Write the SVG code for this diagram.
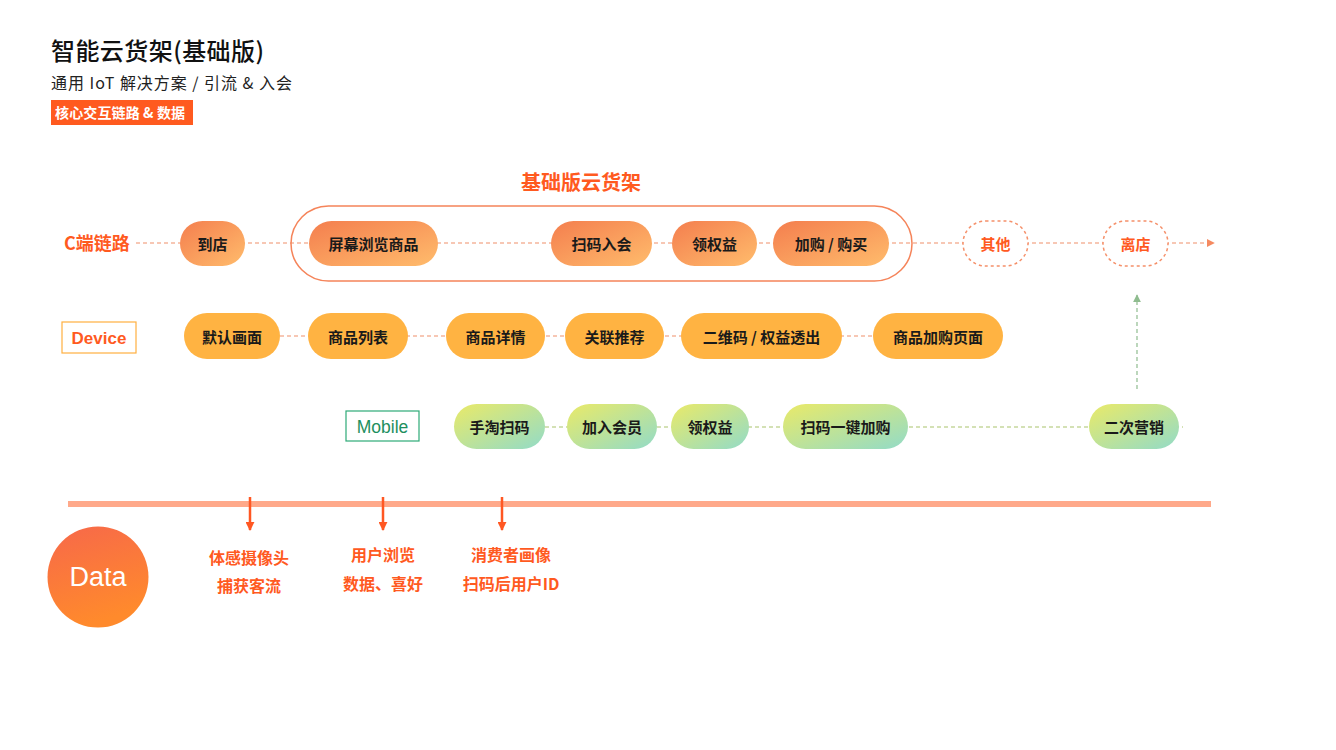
<svg xmlns="http://www.w3.org/2000/svg" width="1336" height="750" viewBox="0 0 1336 750">
<defs>
<linearGradient id="gC" x1="0" y1="0" x2="1" y2="1"><stop offset="0" stop-color="#F47E4E"/><stop offset="1" stop-color="#FFBC6C"/></linearGradient>
<linearGradient id="gM" x1="0" y1="0" x2="1" y2="1"><stop offset="0" stop-color="#EAEA68"/><stop offset="1" stop-color="#92DBC8"/></linearGradient>
<linearGradient id="gD" x1="0" y1="0" x2="0.3" y2="1"><stop offset="0" stop-color="#F7684A"/><stop offset="1" stop-color="#FF8A2C"/></linearGradient>
<marker id="aO" viewBox="0 0 10 10" refX="9" refY="5" markerWidth="8" markerHeight="8" markerUnits="userSpaceOnUse" orient="auto"><path d="M0,0 L10,5 L0,10 Z" fill="#F58A60"/></marker>
<marker id="aG" viewBox="0 0 10 10" refX="9" refY="5" markerWidth="8" markerHeight="8" markerUnits="userSpaceOnUse" orient="auto"><path d="M0,0 L10,5 L0,10 Z" fill="#8FBC8F"/></marker>
<marker id="aR" viewBox="0 0 10 10" refX="9" refY="5" markerWidth="9" markerHeight="9" markerUnits="userSpaceOnUse" orient="auto"><path d="M0,0 L10,5 L0,10 Z" fill="#FF5722"/></marker>
</defs>
<style>
text{font-family:"Noto Sans CJK SC","Liberation Sans",sans-serif;}
.pt{font-size:15px;font-weight:600;fill:#1A1A1A;text-anchor:middle;dominant-baseline:central;}
.or{fill:#FF5A1F;}
.dt{font-size:16px;font-weight:700;fill:#FF5A1F;text-anchor:middle;}
.dashO{stroke:#F0906A;stroke-width:1.2;stroke-dasharray:4 3;fill:none;}
.dashG{stroke:#A9C46C;stroke-width:1.2;stroke-dasharray:4 3;fill:none;}
</style>
<rect width="1336" height="750" fill="#FFFFFF"/>

<g id="header">
<text x="51" y="60" font-size="24" font-weight="500" fill="#111" textLength="213">智能云货架(基础版)</text>
<text x="51" y="89" font-size="16" fill="#222" textLength="241">通用 IoT 解决方案 / 引流 &amp; 入会</text>
<rect x="51" y="100" width="142" height="25" fill="#FF5A1F"/>
<text x="55" y="117.5" font-size="14" font-weight="700" fill="#FFFFFF" textLength="130">核心交互链路 &amp; 数据</text>
</g>

<g id="connectors">
<line class="dashO" x1="136" y1="243" x2="1214" y2="243" marker-end="url(#aO)"/>
<line class="dashO" x1="280" y1="336" x2="873" y2="336"/>
<line class="dashG" x1="545" y1="427" x2="1183" y2="427"/>
<line x1="1137" y1="389" x2="1137" y2="295" stroke="#8FBC8F" stroke-width="1.2" stroke-dasharray="4 3" marker-end="url(#aG)"/>
<rect x="68" y="501" width="1143" height="6" fill="#FFA98A"/>
<line x1="250" y1="497" x2="250" y2="530" stroke="#FF5722" stroke-width="2.5" marker-end="url(#aR)"/>
<line x1="383" y1="497" x2="383" y2="530" stroke="#FF5722" stroke-width="2.5" marker-end="url(#aR)"/>
<line x1="502" y1="497" x2="502" y2="530" stroke="#FF5722" stroke-width="2.5" marker-end="url(#aR)"/>
</g>

<g id="group-basic">
<rect x="291" y="206" width="621" height="75" rx="37.5" fill="none" stroke="#F5845A" stroke-width="1.5"/>
<text x="581" y="190" font-size="20" font-weight="600" fill="#FF5A1F" text-anchor="middle">基础版云货架</text>
</g>

<g id="label-c"><text x="64" y="250" font-size="18" font-weight="700" class="or">C端链路</text></g>
<g id="label-device"><rect x="62" y="322" width="74" height="31" fill="#FFFFFF" stroke="#FFB040" stroke-width="1.2"/><text x="99" y="338" font-size="17" font-weight="700" fill="#FF5A1F" text-anchor="middle" dominant-baseline="central" style="font-family:'Liberation Sans',sans-serif">Device</text></g>
<g id="label-mobile"><rect x="346" y="411" width="73" height="30" fill="#FFFFFF" stroke="#2EAA77" stroke-width="1.2"/><text x="382.5" y="427" font-size="17.5" fill="#1E8F5E" text-anchor="middle" dominant-baseline="central" style="font-family:'Liberation Sans',sans-serif">Mobile</text></g>

<g id="c1"><rect x="180" y="221" width="65" height="45" rx="22.5" fill="url(#gC)"/><text class="pt" x="212.5" y="243.5">到店</text></g>
<g id="c2"><rect x="309" y="221" width="129" height="45" rx="22.5" fill="url(#gC)"/><text class="pt" x="373.5" y="243.5">屏幕浏览商品</text></g>
<g id="c3"><rect x="551" y="221" width="101" height="45" rx="22.5" fill="url(#gC)"/><text class="pt" x="601.5" y="243.5">扫码入会</text></g>
<g id="c4"><rect x="672" y="221" width="85" height="45" rx="22.5" fill="url(#gC)"/><text class="pt" x="714.5" y="243.5">领权益</text></g>
<g id="c5"><rect x="773" y="221" width="116" height="45" rx="22.5" fill="url(#gC)"/><text class="pt" x="831" y="243.5">加购 / 购买</text></g>
<g id="c6"><rect x="963" y="221" width="65" height="45" rx="22.5" fill="#FFFFFF" stroke="#F5906A" stroke-width="1.5" stroke-dasharray="3 3"/><text class="pt" x="995.5" y="243.5" style="fill:#FF5A1F;font-weight:700">其他</text></g>
<g id="c7"><rect x="1103" y="221" width="65" height="45" rx="22.5" fill="#FFFFFF" stroke="#F5906A" stroke-width="1.5" stroke-dasharray="3 3"/><text class="pt" x="1135.5" y="243.5" style="fill:#FF5A1F;font-weight:700">离店</text></g>

<g id="d1"><rect x="184" y="313" width="96" height="46" rx="23" fill="#FFB342"/><text class="pt" x="232" y="336">默认画面</text></g>
<g id="d2"><rect x="308" y="313" width="100" height="46" rx="23" fill="#FFB342"/><text class="pt" x="358" y="336">商品列表</text></g>
<g id="d3"><rect x="446" y="313" width="99" height="46" rx="23" fill="#FFB342"/><text class="pt" x="495.5" y="336">商品详情</text></g>
<g id="d4"><rect x="565" y="313" width="99" height="46" rx="23" fill="#FFB342"/><text class="pt" x="614.5" y="336">关联推荐</text></g>
<g id="d5"><rect x="681" y="313" width="161" height="46" rx="23" fill="#FFB342"/><text class="pt" x="761.5" y="336">二维码 / 权益透出</text></g>
<g id="d6"><rect x="873" y="313" width="130" height="46" rx="23" fill="#FFB342"/><text class="pt" x="938" y="336">商品加购页面</text></g>

<g id="m1"><rect x="454" y="404" width="91" height="45" rx="22.5" fill="url(#gM)"/><text class="pt" x="499.5" y="426.5">手淘扫码</text></g>
<g id="m2"><rect x="567" y="404" width="90" height="45" rx="22.5" fill="url(#gM)"/><text class="pt" x="612" y="426.5">加入会员</text></g>
<g id="m3"><rect x="671" y="404" width="78" height="45" rx="22.5" fill="url(#gM)"/><text class="pt" x="710" y="426.5">领权益</text></g>
<g id="m4"><rect x="783" y="404" width="125" height="45" rx="22.5" fill="url(#gM)"/><text class="pt" x="845.5" y="426.5">扫码一键加购</text></g>
<g id="m5"><rect x="1089" y="404" width="90" height="45" rx="22.5" fill="url(#gM)"/><text class="pt" x="1134" y="426.5">二次营销</text></g>

<g id="data"><circle cx="98" cy="577" r="50.5" fill="url(#gD)"/><text x="98" y="577" font-size="27" fill="#FFFFFF" text-anchor="middle" dominant-baseline="central" style="font-family:'Liberation Sans',sans-serif">Data</text></g>
<g id="data1"><text class="dt" x="249" y="564">体感摄像头</text><text class="dt" x="249" y="592">捕获客流</text></g>
<g id="data2"><text class="dt" x="383" y="561">用户浏览</text><text class="dt" x="383" y="590">数据、喜好</text></g>
<g id="data3"><text class="dt" x="511" y="561">消费者画像</text><text class="dt" x="511" y="590">扫码后用户ID</text></g>
</svg>
